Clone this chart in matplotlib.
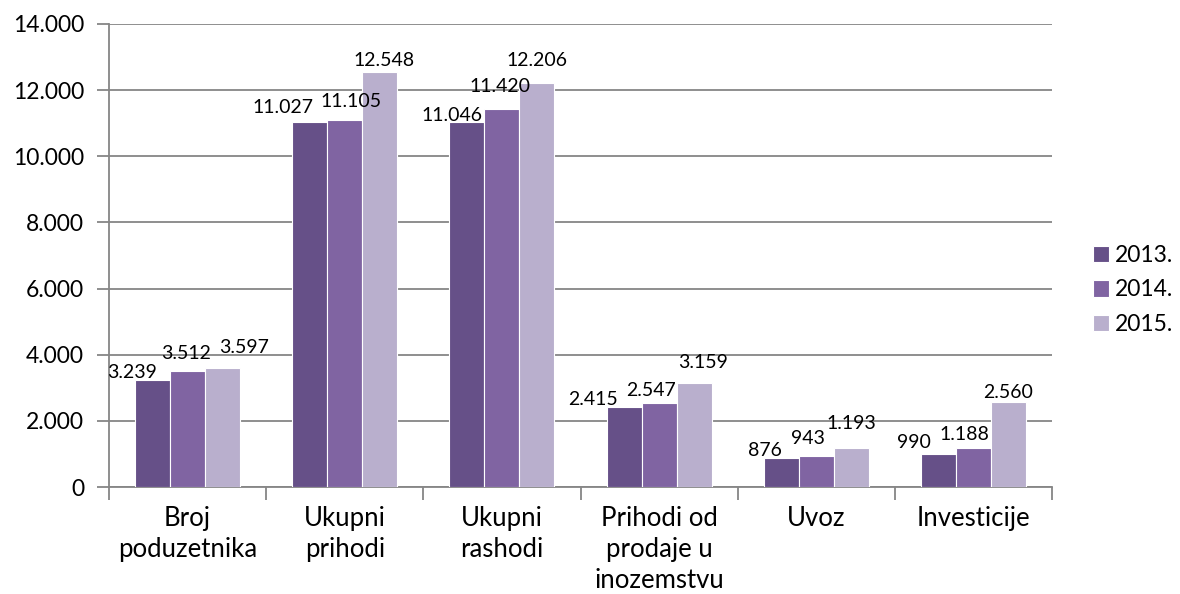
import matplotlib
matplotlib.use('Agg')
import matplotlib.pyplot as plt
import numpy as np
from matplotlib.ticker import FuncFormatter

categories = ["Broj\npoduzetnika", "Ukupni\nprihodi", "Ukupni\nrashodi",
              "Prihodi od\nprodaje u\ninozemstvu", "Uvoz", "Investicije"]
series_names = ["2013.", "2014.", "2015."]
v2013 = [3239, 11027, 11046, 2415, 876, 990]
v2014 = [3512, 11105, 11420, 2547, 943, 1188]
v2015 = [3597, 12548, 12206, 3159, 1193, 2560]
y_ticks = [0, 2000, 4000, 6000, 8000, 10000, 12000, 14000]

series = [v2013, v2014, v2015]
colors = ["#665088", "#8064a2", "#b9afcd"]

# label placement nudges (pixels), per series per category: (dx, dy above bar top)
label_offsets = [
    [(-20, 7), (-27, 15), (-15, 6), (-31, 8), (-16, 8), (-24, 12)],
    [(-2, 17), (6, 18), (-2, 23), (-8, 12), (-8, 17), (-9, 13)],
    [(21, 21), (4, 12), (0, 23), (9, 20), (0, 24), (0, 10)],
]

FONT = "Lato"
plt.rcParams['font.family'] = [FONT, 'DejaVu Sans']

fig = plt.figure(figsize=(11.8, 5.94), dpi=100)
ax = fig.add_axes([109/1180, 1-487/594, (1052-109)/1180, (487-24)/594])

n = len(categories)
x = np.arange(n) + 0.5
w = 0.223
grid_c = "#868686"

for i, (vals, c, name) in enumerate(zip(series, colors, series_names)):
    bars = ax.bar(x + (i-1)*w, vals, w, color=c, edgecolor='white',
                  linewidth=0.8, label=name, zorder=3)
    for j, b in enumerate(bars):
        dx, dy = label_offsets[i][j]
        txt = f"{vals[j]:,}".replace(",", ".")
        ax.annotate(txt, xy=(b.get_x()+b.get_width()/2, b.get_height()),
                    xytext=(dx, dy), textcoords='offset pixels',
                    ha='center', va='center', fontsize=14, color='black',
                    zorder=4)

ax.set_xlim(0, n)
ax.set_ylim(0, 14000)
ax.set_yticks(y_ticks)
ax.yaxis.set_major_formatter(FuncFormatter(lambda v, p: f"{int(v):,}".replace(",", ".")))
ax.yaxis.grid(True, color=grid_c, linewidth=1.3)
ax.set_axisbelow(True)

ax.set_xticks(np.arange(n+1))
ax.set_xticklabels([])
ax.set_xticks(x, minor=True)
ax.set_xticklabels(categories, minor=True, fontsize=18.5, linespacing=1.3)
ax.tick_params(axis='x', which='major', length=9, width=1.3, color=grid_c, direction='out')
ax.tick_params(axis='x', which='minor', length=0, pad=14)
ax.tick_params(axis='y', length=9, width=1.3, color=grid_c, direction='out',
               labelsize=16.5, pad=9)

for s in ['top', 'right']:
    ax.spines[s].set_visible(False)
for s in ['left', 'bottom']:
    ax.spines[s].set_color(grid_c)
    ax.spines[s].set_linewidth(1.3)

handles, labels = ax.get_legend_handles_labels()
fig.legend(handles, labels, loc='center left', bbox_to_anchor=(1093/1180, 1-290/594),
           frameon=False, fontsize=16.5, handlelength=0.7, handleheight=0.7,
           handletextpad=0.25, labelspacing=0.6, borderaxespad=0, borderpad=0)

fig.savefig("out.png", dpi=100)
